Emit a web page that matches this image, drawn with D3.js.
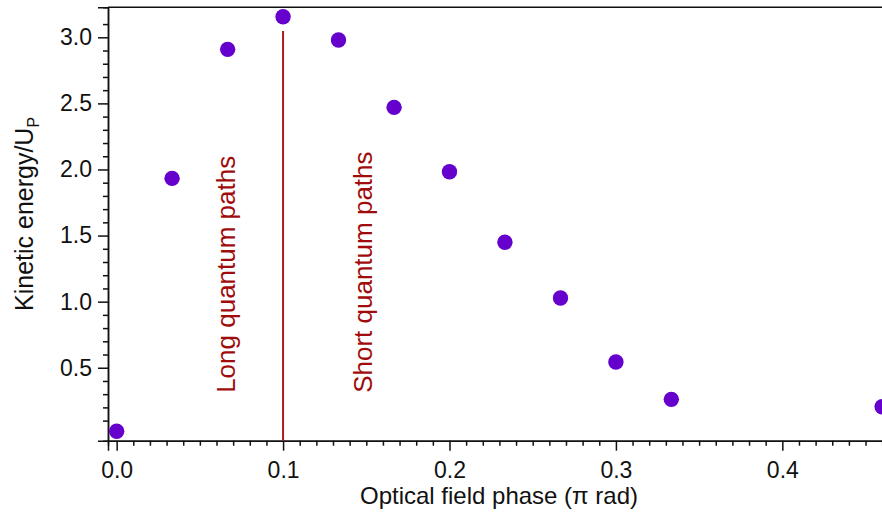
<!DOCTYPE html>
<html>
<head>
<meta charset="utf-8">
<script src="https://cdn.jsdelivr.net/npm/d3@7"></script>
<style>
  html, body { margin: 0; padding: 0; background: #fff; overflow: hidden; }
  svg { display: block; font-family: "Liberation Sans", Arial, Helvetica, sans-serif; }
</style>
</head>
<body>
<svg id="chart" width="882" height="515"></svg>
<script>
// Optical field phase (units of pi rad) at ionization and the return kinetic energy (units of Up)
const phase  = [0.0, 0.0333, 0.0667, 0.1, 0.1333, 0.1667, 0.2, 0.2333, 0.2667, 0.3, 0.3333, 0.46];
const energy = [0.02, 1.933, 2.909, 3.156, 2.980, 2.470, 1.983, 1.449, 1.028, 0.543, 0.261, 0.205];

// Phase that separates the long and the short quantum paths, and the top of its marker line
const dividerPhase = 0.1;
const dividerTop = 3.048;

const xMajorTicks = [0.0, 0.1, 0.2, 0.3, 0.4];
const yMajorTicks = [0.5, 1.0, 1.5, 2.0, 2.5, 3.0];

const xTitle = "Optical field phase (\u03c0 rad)";
const yTitle = "Kinetic energy/U";
const yTitleSub = "P";
const regionLabels = ["Long quantum paths", "Short quantum paths"];

const svg = d3.select("#chart");
const plotLeft = 108, plotRight = 890, plotTop = 7.3, plotBottom = 440.7;

const x = d3.scaleLinear().domain([-0.0052, 0.4647]).range([plotLeft, plotRight]);
const y = d3.scaleLinear().domain([-0.052, 3.227]).range([plotBottom, plotTop]);

const xMinor = d3.range(0, 47).map(i => i / 100).filter(v => Math.abs(v * 10 - Math.round(v * 10)) > 1e-6);
const yMinor = d3.range(1, 32).map(i => i / 10).filter(v => Math.abs(v * 2 - Math.round(v * 2)) > 1e-6);

const fmt = d3.format(".1f");
const axisColor = "#111";

function styleAxis(g) {
  g.attr("font-family", null);
  g.selectAll(".domain").attr("stroke", axisColor).attr("stroke-width", 1.5);
  g.selectAll(".tick line").attr("stroke", axisColor).attr("stroke-width", 1.5);
  g.selectAll(".tick text").attr("font-size", 23).attr("fill", "#111");
}

// frame: top border line
svg.append("line")
  .attr("x1", plotLeft).attr("x2", plotRight).attr("y1", plotTop).attr("y2", plotTop)
  .attr("stroke", axisColor).attr("stroke-width", 1.5);

// x axis: minor ticks every 0.01, labelled majors every 0.1
svg.append("g").attr("transform", `translate(0,${plotBottom})`)
  .call(d3.axisBottom(x).tickValues(xMinor).tickSize(5).tickFormat(""))
  .call(styleAxis);
svg.append("g").attr("transform", `translate(0,${plotBottom})`)
  .call(d3.axisBottom(x).tickValues(xMajorTicks).tickSize(10).tickPadding(11).tickFormat(fmt))
  .call(styleAxis);

// y axis: minor ticks every 0.1, labelled majors every 0.5
svg.append("g").attr("transform", `translate(${plotLeft},0)`)
  .call(d3.axisLeft(y).tickValues(yMinor).tickSize(5).tickFormat(""))
  .call(styleAxis);
svg.append("g").attr("transform", `translate(${plotLeft},0)`)
  .call(d3.axisLeft(y).tickValues(yMajorTicks).tickSize(10).tickPadding(6).tickFormat(fmt))
  .call(styleAxis);

// divider between long and short paths
svg.append("line")
  .attr("x1", x(dividerPhase)).attr("x2", x(dividerPhase))
  .attr("y1", y(dividerTop)).attr("y2", plotBottom)
  .attr("stroke", "#a81c1c").attr("stroke-width", 2);

// region labels, reading upward on either side of the divider
const labelBase = y(0.31);
const labelOffsets = [-48, 88.5];
regionLabels.forEach((t, i) => {
  const bx = x(dividerPhase) + labelOffsets[i];
  svg.append("text")
    .attr("transform", `translate(${bx},${labelBase}) rotate(-90)`)
    .attr("font-size", 26)
    .attr("fill", "#a00c0c")
    .text(t);
});

// data points
svg.append("g").selectAll("circle")
  .data(phase.map((p, i) => [p, energy[i]]))
  .join("circle")
  .attr("cx", d => x(d[0]))
  .attr("cy", d => y(d[1]))
  .attr("r", 7.7)
  .attr("fill", "#6600cc");

// axis titles
svg.append("text")
  .attr("x", (plotLeft + plotRight) / 2).attr("y", 504)
  .attr("text-anchor", "middle")
  .attr("font-size", 24).attr("fill", "#111")
  .text(xTitle);

const yt = svg.append("text")
  .attr("transform", `translate(33,311) rotate(-90)`)
  .attr("font-size", 25).attr("fill", "#111");
yt.append("tspan").text(yTitle);
yt.append("tspan").attr("font-size", 16).attr("dy", 6).text(yTitleSub);
</script>
</body>
</html>
